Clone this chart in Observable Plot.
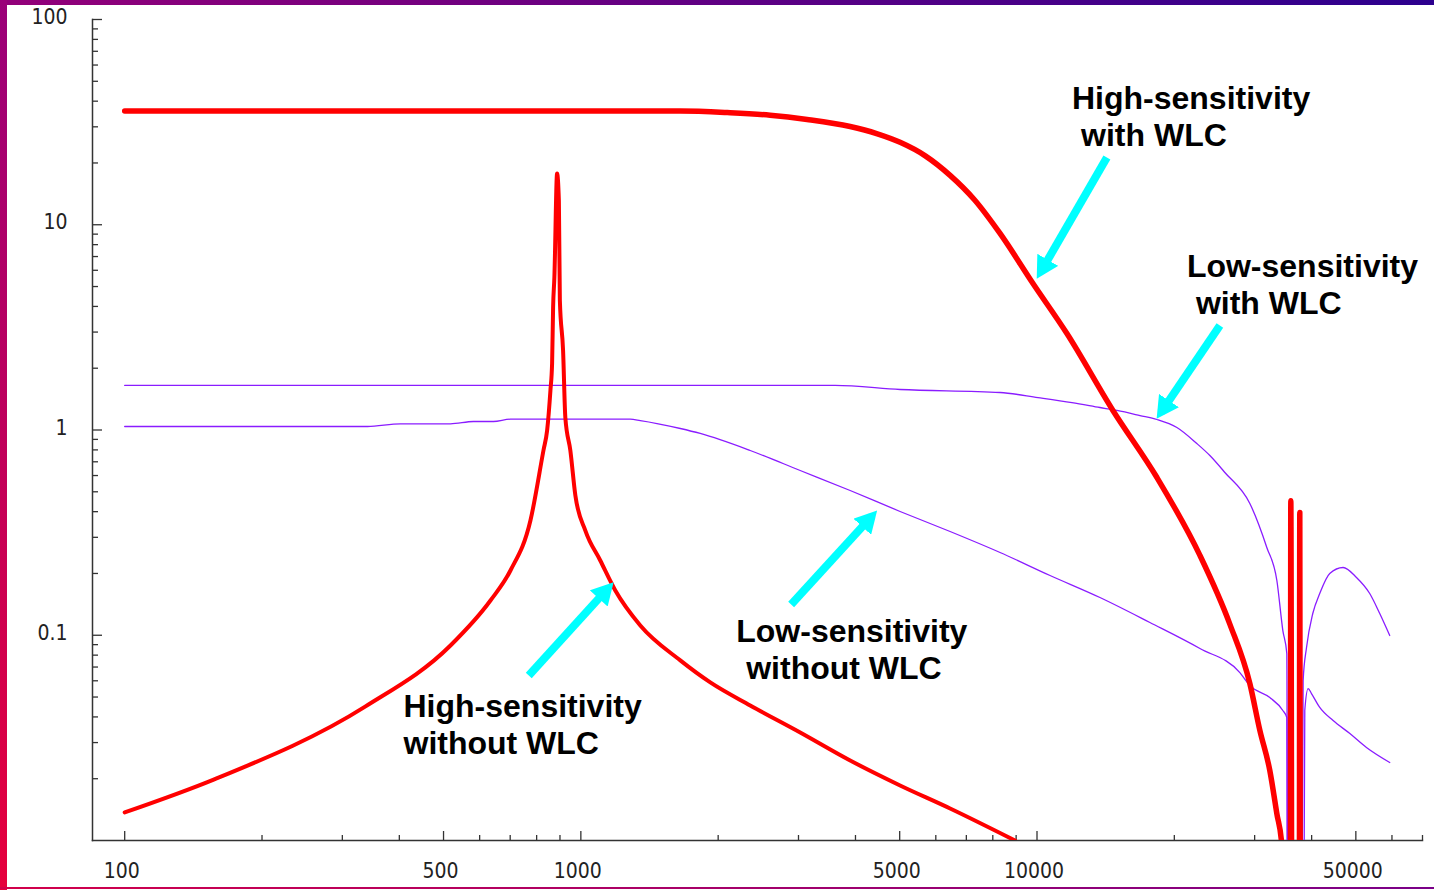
<!DOCTYPE html>
<html>
<head>
<meta charset="utf-8">
<script src="https://cdn.jsdelivr.net/npm/d3@7"></script>
<script src="https://cdn.jsdelivr.net/npm/@observablehq/plot@0.6"></script>
<style>
  html, body { margin: 0; padding: 0; background: #fff; }
  #wrap { position: relative; width: 1434px; height: 890px; overflow: hidden; background: #fff; }
  #chart { position: absolute; left: 0; top: 0; }
  .stripe { position: absolute; }
  #top { left: 0; top: 0; width: 1434px; height: 5px; background: linear-gradient(to right, #930079, #2c008e); }
  #left { left: 0; top: 0; width: 7px; height: 890px; background: linear-gradient(to bottom, #9a0079, #e6003c); }
  #bottom { left: 0; top: 887px; width: 1434px; height: 2px; background: linear-gradient(to right, #d2004a, #7a0088); }
</style>
</head>
<body>
<div id="wrap">
  <div id="chart"></div>
  <div class="stripe" id="top"></div>
  <div class="stripe" id="left"></div>
  <div class="stripe" id="bottom"></div>
</div>
<script>
// ---- Data: [frequency, value] ----
const highWithWLC = [
  [100, 35.8], [1652, 35.8], [2094, 35.2], [2600, 34.2], [3133, 32.6], [3894, 30.1], [4450, 27.8],
  [5010, 25.2], [5700, 21.6], [6449, 17.4], [7300, 13.2], [8298, 9.07], [9799, 5.17], [11630, 2.95],
  [14670, 1.245], [18320, 0.587], [22760, 0.245], [26480, 0.113], [29280, 0.0582], [30800, 0.0344],
  [32390, 0.0219], [33560, 0.0135], [34410, 0.0095],
  [35900, 0.0005], [36010, 0.4525], [36250, 0.0005],
  [37560, 0.0005], [37680, 0.396], [37800, 0.0005]
];
const highWithoutWLC = [
  [100, 0.0137], [156.7, 0.0198], [337.3, 0.045], [517.8, 0.0891], [633.6, 0.1476],
  [700.9, 0.2068], [775.3, 0.3624], [827.9, 0.7945], [843.4, 0.9945], [857.6, 1.557],
  [864.9, 2.109], [869.3, 3.954], [874.9, 5.534], [887, 17.77], [895, 13.1],
  [899.5, 4.276], [914.2, 2.44], [924.7, 1.15], [948.4, 0.7945], [972.7, 0.4797],
  [1023, 0.3237], [1103, 0.2313], [1190, 0.1652], [1350, 0.1116], [1652, 0.0754],
  [1922, 0.0589], [2351, 0.0455], [3026, 0.0336], [3894, 0.02454], [5010, 0.01854],
  [6449, 0.01432], [8950, 0.01]
];
const lowWithWLC = [
  [100, 1.648], [3609, 1.648], [5010, 1.575], [8298, 1.523], [10050, 1.439],
  [11930, 1.361], [13740, 1.287], [14970, 1.245], [16820, 1.176], [18320, 1.125],
  [20260, 1.0285], [22410, 0.859], [23930, 0.751], [25810, 0.621], [29280, 0.4385],
  [31900, 0.2676], [33560, 0.1848], [34590, 0.1054], [35290, 0.0815],
  [35500, 0.0005], [37900, 0.0005],
  [38320, 0.0602], [38980, 0.0872], [40230, 0.1276], [41670, 0.1597], [43830, 0.2],
  [46880, 0.2138], [50160, 0.1912], [53630, 0.1597], [56410, 0.1276], [59330, 0.0997]
];
const lowWithoutWLC = [
  [100, 1.04], [340.6, 1.04], [402.3, 1.072], [517.8, 1.072], [581.5, 1.1], [643.2, 1.1],
  [700.9, 1.129], [1283, 1.129], [1350, 1.112], [1652, 1.017], [1827, 0.9616],
  [2351, 0.7945], [3026, 0.6348], [3894, 0.5072], [5010, 0.4009], [6449, 0.3203],
  [8298, 0.2531], [10680, 0.1955], [13740, 0.1527], [17680, 0.1154], [22760, 0.0862],
  [27840, 0.0658], [29280, 0.0569], [32390, 0.0497], [34590, 0.043], [35290, 0.0397],
  [35500, 0.0005], [38300, 0.0005],
  [38640, 0.043], [39300, 0.055], [39970, 0.052], [41670, 0.0445], [44580, 0.0384],
  [48510, 0.0332], [52750, 0.0284], [59330, 0.024]
];

// ---- Annotations ----
const labelTexts = ["High-sensitivity", "with WLC", "Low-sensitivity", "with WLC",
                    "Low-sensitivity", "without WLC", "High-sensitivity", "without WLC"];
const labelX = [11930, 12490, 21310, 22300, 2191, 2304, 408.5, 408.5];
const labelY = [41.2, 27.2, 6.26, 4.134, 0.1043, 0.0689, 0.045, 0.0297];

// arrows: [tailX, tailY, tipX, tipY]
const arrows = [
  [14230, 21.27, 10190, 5.89],
  [25170, 3.229, 18710, 1.221],
  [2891, 0.1412, 4342, 0.3793],
  [768.8, 0.0637, 1148, 0.1697]
];

// ---- Axis ticks ----
const xMajorTicks = [100, 500, 1000, 5000, 10000, 50000];
const xMinorTicks = [200, 300, 400, 600, 700, 800, 900, 2000, 3000, 4000, 6000, 7000, 8000, 9000,
                     20000, 30000, 40000, 60000, 70000];
const xTickLabels = ["100", "500", "1000", "5000", "10000", "50000"];
const yMajorTicks = [0.1, 1, 10, 100];
const yMinorTicks = [0.02, 0.03, 0.04, 0.05, 0.06, 0.07, 0.08, 0.09,
                     0.2, 0.3, 0.4, 0.5, 0.6, 0.7, 0.8, 0.9,
                     2, 3, 4, 5, 6, 7, 8, 9,
                     20, 30, 40, 50, 60, 70, 80, 90];
const yTickLabels = ["0.1", "1", "10", "100"];

const labels = labelTexts.map((t, i) => ({text: t, x: labelX[i], y: labelY[i]}));
const arrowRows = arrows.map(a => ({x1: a[0], y1: a[1], x2: a[2], y2: a[3]}));
const xLabelRows = xMajorTicks.map((v, i) => ({v, t: xTickLabels[i]}));
const yLabelRows = yMajorTicks.map((v, i) => ({v, t: yTickLabels[i]}));

function arrowHead(color) {
  const ns = "http://www.w3.org/2000/svg";
  const m = document.createElementNS(ns, "marker");
  m.setAttribute("viewBox", "-14 -12 22 24");
  m.setAttribute("markerWidth", "22");
  m.setAttribute("markerHeight", "24");
  m.setAttribute("markerUnits", "userSpaceOnUse");
  m.setAttribute("orient", "auto");
  const p = document.createElementNS(ns, "path");
  p.setAttribute("d", "M-14,-12L8,0L-14,12Z");
  p.setAttribute("fill", color);
  p.setAttribute("stroke", "none");
  m.appendChild(p);
  return m;
}

const frameH = 840 - 19;
const frameW = 1422 - 92;
const axisColor = "#333";
const tickFont = "'DejaVu Sans Condensed', 'DejaVu Sans', sans-serif";

const chart = Plot.plot({
  width: 1434,
  height: 890,
  marginLeft: 92,
  marginRight: 12,
  marginTop: 19,
  marginBottom: 50,
  style: {background: "white", overflow: "visible"},
  x: {type: "log", domain: [85, 70000], axis: null},
  y: {type: "log", domain: [0.01, 100], axis: null},
  marks: [
    // ticks (inward)
    Plot.tickX(xMajorTicks, {x: d => d, insetTop: frameH - 9, stroke: axisColor, strokeWidth: 1.3}),
    Plot.tickX(xMinorTicks, {x: d => d, insetTop: frameH - 5, stroke: axisColor, strokeWidth: 1.3}),
    Plot.tickY(yMajorTicks, {y: d => d, insetRight: frameW - 10, stroke: axisColor, strokeWidth: 1.3}),
    Plot.tickY(yMinorTicks, {y: d => d, insetRight: frameW - 6, stroke: axisColor, strokeWidth: 1.3}),
    // axis lines
    Plot.frame({anchor: "left", stroke: axisColor, strokeWidth: 1.5}),
    Plot.frame({anchor: "bottom", stroke: axisColor, strokeWidth: 1.5}),
    // tick labels
    Plot.text(xLabelRows, {x: "v", text: "t", frameAnchor: "bottom", dy: 37, dx: -3,
      fontSize: 21, fontFamily: tickFont, fill: "#222"}),
    Plot.text(yLabelRows, {y: "v", text: "t", frameAnchor: "left", dx: -25, dy: -2,
      textAnchor: "end", fontSize: 21, fontFamily: tickFont, fill: "#222"}),
    // series
    Plot.line(lowWithWLC, {x: d => d[0], y: d => d[1], stroke: "#8a1cff", strokeWidth: 1.3,
      curve: "monotone-x", clip: true}),
    Plot.line(lowWithoutWLC, {x: d => d[0], y: d => d[1], stroke: "#8a1cff", strokeWidth: 1.3,
      curve: "monotone-x", clip: true}),
    Plot.line(highWithoutWLC, {x: d => d[0], y: d => d[1], stroke: "#ff0000", strokeWidth: 4,
      strokeLinecap: "round", strokeLinejoin: "round", curve: "monotone-x", clip: true}),
    Plot.line(highWithWLC, {x: d => d[0], y: d => d[1], stroke: "#ff0000", strokeWidth: 5.5,
      strokeLinecap: "round", strokeLinejoin: "round", curve: "monotone-x", clip: true}),
    // arrows
    Plot.link(arrowRows, {x1: "x1", y1: "y1", x2: "x2", y2: "y2", stroke: "#00ffff",
      strokeWidth: 8, strokeLinecap: "butt", markerEnd: arrowHead}),
    // annotations
    Plot.text(labels, {x: "x", y: "y", text: "text", textAnchor: "start", lineAnchor: "middle",
      fontSize: 32, fontWeight: "bold", fontFamily: "'Liberation Sans', Arial, sans-serif", fill: "#000"})
  ]
});
document.getElementById("chart").appendChild(chart);
</script>
</body>
</html>
